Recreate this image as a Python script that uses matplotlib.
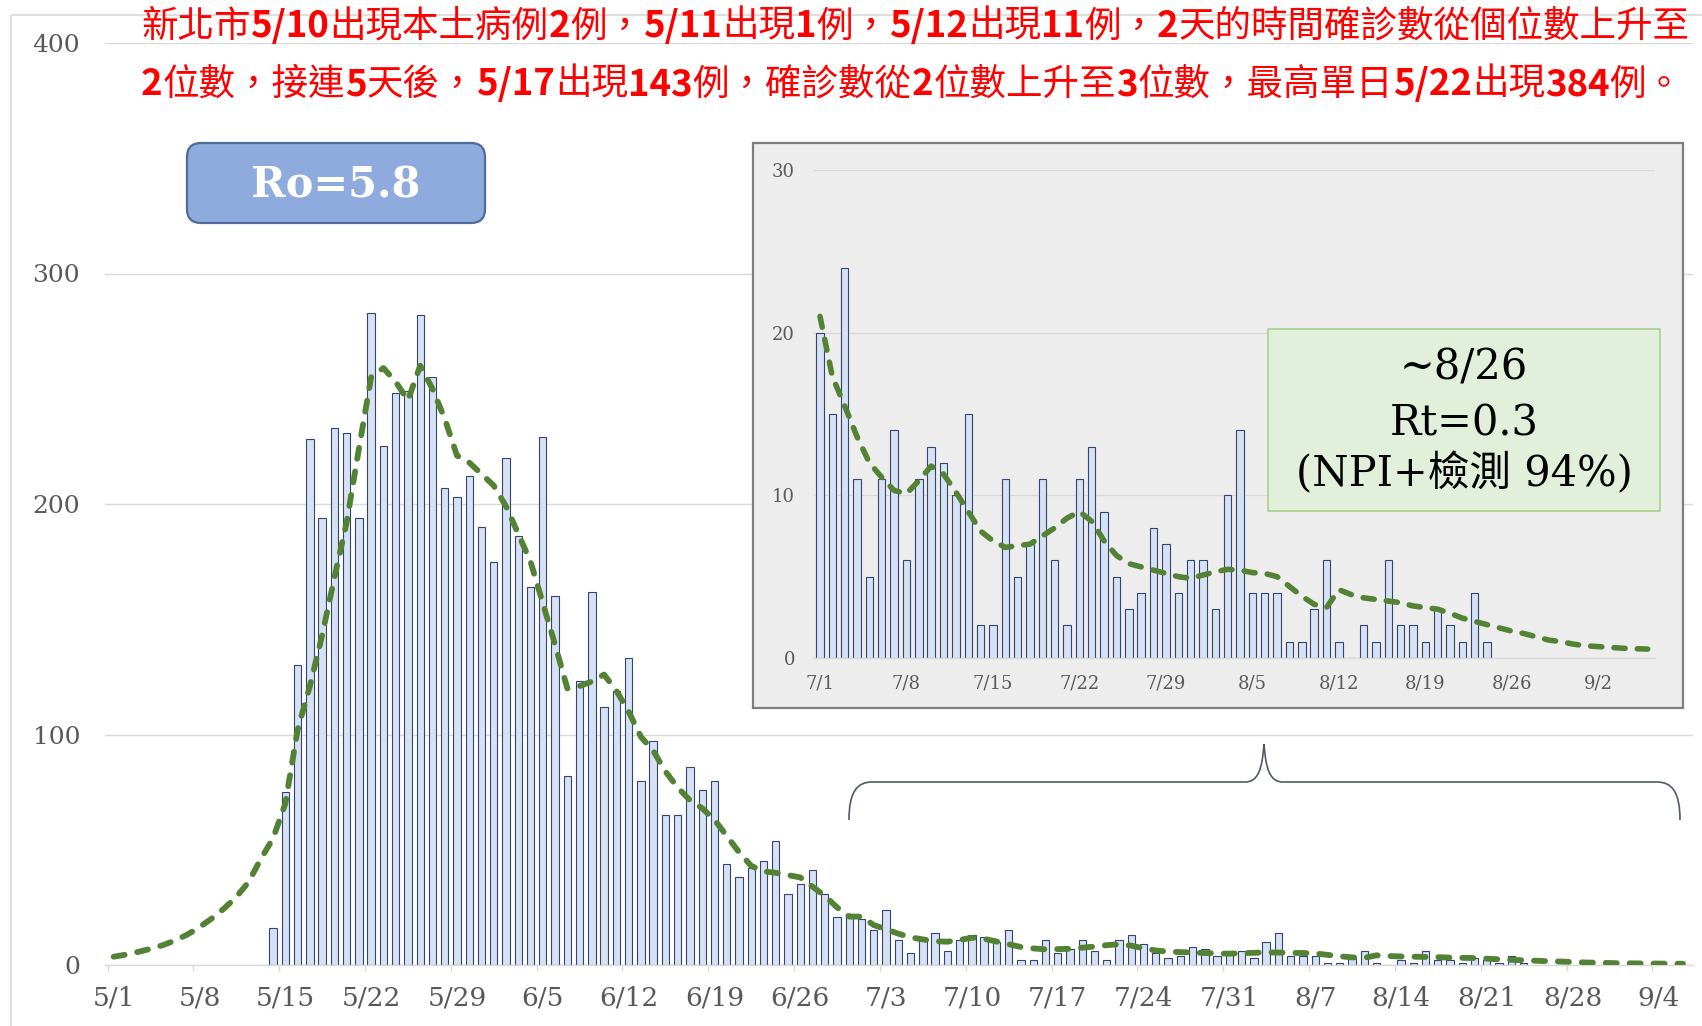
"""
New Taipei daily local COVID-19 cases (May - Sep 2021) with a zoomed inset for 7/1 - 9/6
"""

#Standard library imports
import re

#Third party imports
import numpy as np
import pandas as pd
import matplotlib
matplotlib.use('Agg')
import matplotlib.pyplot as plt
from matplotlib.patches import Rectangle, FancyBboxPatch, PathPatch
from matplotlib.path import Path

# -----------------------------
# Data
# -----------------------------

YEAR = 2021
origin_date = '5/1'        # first day on the main axis
cases_start_date = '5/14'  # first bar
inset_start_date = '7/1'   # first day on the inset axis

# Daily cases 5/14 - 6/30
cases_may_jun = [16, 75, 130, 228, 194, 233, 231, 194, 283, 225, 248, 249, 282, 255, 207, 203, 212, 190,
                 175, 220, 186, 164, 229, 160, 82, 123, 162, 112, 119, 133, 80, 97, 65, 65, 86, 76, 80,
                 44, 38, 42, 45, 54, 31, 35, 41, 31, 21, 22]
# Daily cases 7/1 - 8/24 (same numbers in the inset)
cases_jul_aug = [20, 15, 24, 11, 5, 11, 14, 6, 11, 13, 12, 10, 15, 2, 2, 11, 5, 7, 11, 6, 2, 11, 13, 9,
                 5, 3, 4, 8, 7, 4, 6,
                 6, 3, 10, 14, 4, 4, 4, 1, 1, 3, 6, 1, 0, 2, 1, 6, 2, 2, 1, 3, 2, 1, 4, 1]

# Dashed trend line, one value per day
trend_may_jun = [3.6, 4.5, 5.7, 7.0, 8.6, 10.6, 13.2, 16.4, 20.2, 24.5,
                 29.5, 36, 46, 55, 70, 102, 121, 143, 168, 192,
                 224, 255, 259, 253, 245, 260, 250, 237, 221, 218,
                 213, 208, 199, 187, 175, 157, 139, 120, 121, 123,
                 126, 119, 110, 99, 93, 84, 77, 71.5, 68, 63,
                 56, 49, 43, 40.6, 40, 39, 38, 34, 30, 25, 21]          # 5/1 - 6/30
trend_jul_sep = [21, 17.3, 15.5, 13.6, 12, 11.1, 10.3, 10.1, 10.9, 11.8, 11.3, 10.2, 9.0, 7.8, 7.2,
                 6.8, 6.9, 7.0, 7.5, 8.0, 8.6, 9.0, 8.4, 7.2, 6.3, 5.8, 5.6, 5.4, 5.2, 5.0, 4.9,
                 5.1, 5.3, 5.45, 5.4, 5.25, 5.2, 5.0, 4.4, 3.8, 3.3, 3.1, 4.2, 3.9, 3.7, 3.6, 3.5,
                 3.4, 3.2, 3.1, 3.0, 2.75, 2.45, 2.25, 2.05, 1.85, 1.65, 1.5, 1.3, 1.1, 1.0, 0.85,
                 0.75, 0.7, 0.65, 0.6, 0.57, 0.55]                                # 7/1 - 9/6

main_xtick_labels = ['5/1', '5/8', '5/15', '5/22', '5/29', '6/5', '6/12', '6/19', '6/26',
                     '7/3', '7/10', '7/17', '7/24', '7/31', '8/7', '8/14', '8/21', '8/28', '9/4']
main_yticks = [0, 100, 200, 300, 400]
inset_xtick_labels = ['7/1', '7/8', '7/15', '7/22', '7/29', '8/5', '8/12', '8/19', '8/26', '9/2']
inset_yticks = [0, 10, 20, 30]

title_lines = ['新北市5/10出現本土病例2例，5/11出現1例，5/12出現11例，2天的時間確診數從個位數上升至',
               '2位數，接連5天後，5/17出現143例，確診數從2位數上升至3位數，最高單日5/22出現384例。']
ro_label = 'Ro=5.8'
rt_lines = ['~8/26', 'Rt=0.3', '(NPI+檢測 94%)']

# -----------------------------
# Styles
# -----------------------------

W, H = 1702, 1026  # output size in px (dpi 100)
GRID = '#D9D9D9'
TICK_TEXT = '#595959'
BAR_FILL = '#D6E1F4'
BAR_EDGE = '#34446E'
GREEN = '#548235'
RED = '#FF0000'
SERIF = ['DejaVu Serif', 'Noto Sans CJK TC']
CJK = ['Noto Sans CJK TC', 'DejaVu Sans']


def to_dates(labels):
    return pd.to_datetime([f'{YEAR}/{s}' for s in labels], format='%Y/%m/%d')


def day_offset(labels, ref):
    """Days from ref for each 'm/d' label"""
    return np.asarray((to_dates(labels) - to_dates([ref])[0]).days, dtype=float)


def day_range(start, n, ref):
    """n consecutive day positions starting at start, counted from ref"""
    return day_offset([start], ref)[0] + np.arange(n)


def axes_rect(left, top, right, bottom):
    """Pixel box (from top-left) -> figure fraction rect"""
    return [left / W, 1 - bottom / H, (right - left) / W, (bottom - top) / H]


def style_axis(ax, tick_labels, ref, yticks, xsize, ysize, xpad, ypad, minor_len):
    ax.set_yticks(yticks)
    ax.grid(axis='y', color=GRID, lw=1.0)
    ax.set_axisbelow(True)
    for s in ['top', 'right', 'left']:
        ax.spines[s].set_visible(False)
    ax.spines['bottom'].set_color(GRID)
    ax.spines['bottom'].set_linewidth(1.0)

    pos = day_offset(tick_labels, ref)
    ax.set_xticks(pos)
    ax.set_xticklabels(tick_labels)
    ax.set_xticks(pos - 0.5, minor=True)
    ax.tick_params(axis='x', which='major', length=0, pad=xpad, labelsize=xsize, labelcolor=TICK_TEXT)
    ax.tick_params(axis='x', which='minor', length=minor_len, width=1.0, color=GRID)
    ax.tick_params(axis='y', length=0, pad=ypad, labelsize=ysize, labelcolor=TICK_TEXT)
    for lab in ax.get_xticklabels() + ax.get_yticklabels():
        lab.set_family(SERIF)


fig = plt.figure(figsize=(W / 100, H / 100), dpi=100)
fig.patch.set_facecolor('white')

# -----------------------------
# Main chart
# -----------------------------
all_cases = cases_may_jun + cases_jul_aug
all_trend = trend_may_jun + trend_jul_sep

ax = fig.add_axes(axes_rect(105, 43, 1693, 965), zorder=0)
main_day_px, main_first_px = 12.26, 113.7  # px per day, px of 5/1
ax.set_xlim((105 - main_first_px) / main_day_px, (1693 - main_first_px) / main_day_px)
ax.set_ylim(0, 400)

ax.bar(day_range(cases_start_date, len(all_cases), origin_date), all_cases, width=0.6,
       color=BAR_FILL, edgecolor=BAR_EDGE, linewidth=0.8, zorder=2)
ax.plot(day_range(origin_date, len(all_trend), origin_date), all_trend, color=GREEN, lw=4.2,
        dashes=(1.9, 2.2), dash_capstyle='round', zorder=3)
style_axis(ax, main_xtick_labels, origin_date, main_yticks, 19, 18, 15, 18, 4.5)

# -----------------------------
# Decorations behind the inset (pixel coordinates, origin top-left)
# -----------------------------
deco = fig.add_axes([0, 0, 1, 1], zorder=1)
deco.set_xlim(0, W)
deco.set_ylim(H, 0)
deco.axis('off')
deco.patch.set_visible(False)

deco.plot([11, 11, W], [H, 15, 15], color=GRID, lw=1.2)
deco.add_patch(Rectangle((753, 143), 930, 565, facecolor='#EDEDED', edgecolor='#7F7F7F', lw=1.6))

deco.add_patch(FancyBboxPatch((187, 143), 298, 80, boxstyle='round,pad=0,rounding_size=14',
                              facecolor='#8FAADC', edgecolor='#4F6D9A', lw=1.6))
deco.text(336, 185, ro_label, color='white', fontsize=30, fontweight='bold', family=SERIF,
          ha='center', va='center')

# curly bracket under the inset
brace = Path([(849, 820), (849, 792), (857, 782), (872, 782),
              (1245, 782),
              (1258, 782), (1262, 770), (1264, 744),
              (1266, 770), (1270, 782), (1283, 782),
              (1657, 782),
              (1672, 782), (1680, 792), (1680, 820)],
             [Path.MOVETO, Path.CURVE4, Path.CURVE4, Path.CURVE4,
              Path.LINETO,
              Path.CURVE4, Path.CURVE4, Path.CURVE4,
              Path.CURVE4, Path.CURVE4, Path.CURVE4,
              Path.LINETO,
              Path.CURVE4, Path.CURVE4, Path.CURVE4])
deco.add_patch(PathPatch(brace, facecolor='none', edgecolor='#4F5B6B', lw=1.2))

# red title: digits bold, CJK regular, drawn run by run
renderer = fig.canvas.get_renderer()
for line, baseline in zip(title_lines, [37, 95]):
    x = 141
    for run in re.split(r'([0-9/]+)', line):
        if not run:
            continue
        bold = bool(re.fullmatch(r'[0-9/]+', run))
        t = deco.text(x, baseline, run, color=RED, fontsize=26.3, family=CJK,
                      fontweight='bold' if bold else 'normal', ha='left', va='baseline')
        x += t.get_window_extent(renderer=renderer).width

# -----------------------------
# Inset: 7/1 - 9/6
# -----------------------------
ins = fig.add_axes(axes_rect(813, 170, 1655, 658), zorder=2)
ins.patch.set_visible(False)
inset_day_px, inset_first_px = 12.354, 820
ins.set_xlim((813 - inset_first_px) / inset_day_px, (1655 - inset_first_px) / inset_day_px)
ins.set_ylim(0, 30)

ins.bar(day_range(inset_start_date, len(cases_jul_aug), inset_start_date), cases_jul_aug, width=0.6,
        color=BAR_FILL, edgecolor=BAR_EDGE, linewidth=0.8, zorder=2)
ins.plot(day_range(inset_start_date, len(trend_jul_sep), inset_start_date), trend_jul_sep, color=GREEN,
         lw=4.0, dashes=(2.0, 2.2), dash_capstyle='round', zorder=3)
style_axis(ins, inset_xtick_labels, inset_start_date, inset_yticks, 13, 13, 12, 13, 0)

# green note box over the inset
note = fig.add_axes([0, 0, 1, 1], zorder=3)
note.set_xlim(0, W)
note.set_ylim(H, 0)
note.axis('off')
note.patch.set_visible(False)
note.add_patch(Rectangle((1268, 329), 392, 182, facecolor='#E2EFDA', edgecolor='#A9D18E', lw=1.2))
for txt, yc in zip(rt_lines, [368, 424, 474]):
    note.text(1464, yc, txt, color='black', fontsize=30, family=SERIF, ha='center', va='center')

fig.savefig('out.png', dpi=100)
